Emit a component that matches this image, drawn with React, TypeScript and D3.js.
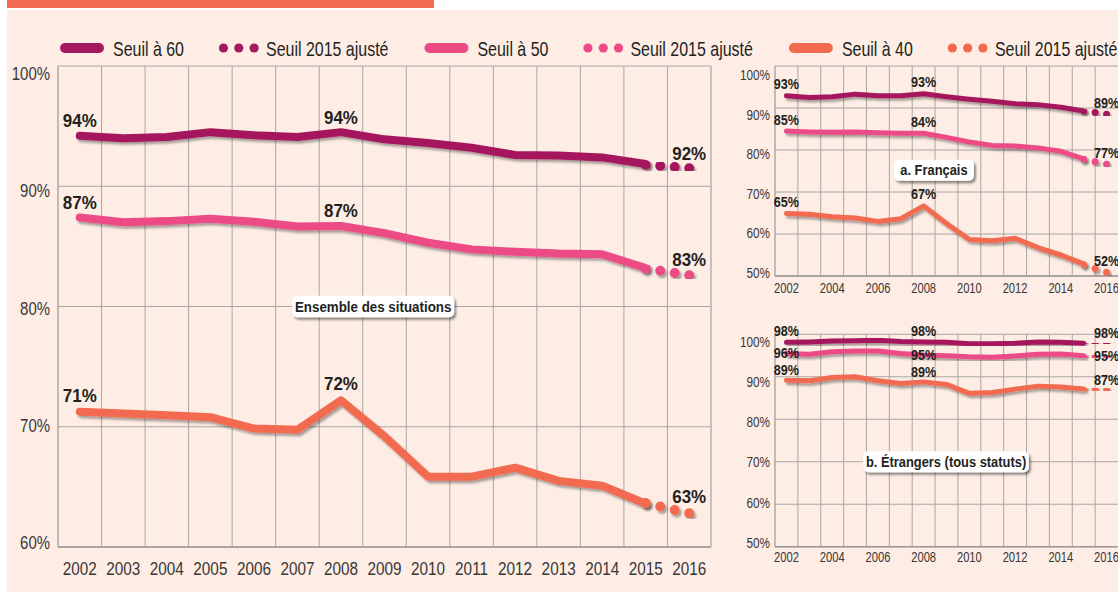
import { useEffect, useRef } from 'react'
import * as d3 from 'd3'

const YEARS = ['2002', '2003', '2004', '2005', '2006', '2007', '2008', '2009', '2010', '2011', '2012', '2013', '2014', '2015', '2016']
const SOLID_YEARS = YEARS.slice(0, 14)
const ADJ_YEARS = ['2015', '2016']
const LABEL_YEARS = ['2002', '2008', '2016']
const EVEN_YEARS = ['2002', '2004', '2006', '2008', '2010', '2012', '2014', '2016']

const SERIES_NAMES = ['Seuil à 60', 'Seuil à 50', 'Seuil à 40']
const ADJ_NAME = 'Seuil 2015 ajusté'
const COLORS = ['#a5195e', '#ec4b86', '#f26a50']

// Ensemble des situations
const ENS_60 = [94.2, 94.0, 94.1, 94.5, 94.25, 94.1, 94.5, 93.9, 93.6, 93.2, 92.6, 92.55, 92.4, 91.85]
const ENS_60_ADJ = [91.8, 91.5]
const ENS_50 = [87.4, 87.0, 87.1, 87.3, 87.05, 86.65, 86.7, 86.1, 85.3, 84.75, 84.55, 84.4, 84.35, 83.2]
const ENS_50_ADJ = [83.15, 82.6]
const ENS_40 = [71.25, 71.1, 70.95, 70.8, 69.85, 69.75, 72.2, 69.2, 65.85, 65.85, 66.6, 65.5, 65.1, 63.6]
const ENS_40_ADJ = [63.65, 62.8]
const ENS_LABELS = [[94, 94, 92], [87, 87, 83], [71, 72, 63]]

// a. Français
const FR_60 = [92.9, 92.5, 92.7, 93.3, 92.9, 92.9, 93.4, 92.7, 92.1, 91.6, 91.0, 90.8, 90.2, 89.3]
const FR_60_ADJ = [89.3, 88.5]
const FR_50 = [84.5, 84.3, 84.2, 84.3, 84.1, 84.0, 84.0, 83.0, 81.9, 81.1, 80.95, 80.5, 79.7, 77.9]
const FR_50_ADJ = [77.8, 76.6]
const FR_40 = [64.9, 64.7, 64.1, 63.8, 63.0, 63.65, 66.7, 62.5, 58.7, 58.4, 59.0, 56.75, 55.0, 52.9]
const FR_40_ADJ = [52.7, 50.9]
const FR_LABELS = [[93, 93, 89], [85, 84, 77], [65, 67, 52]]

// b. Étrangers (tous statuts)
const ET_60 = [98.1, 98.2, 98.4, 98.5, 98.6, 98.3, 98.2, 98.1, 97.8, 97.8, 97.9, 98.2, 98.1, 97.9]
const ET_60_ADJ = [97.9, 97.8]
const ET_50 = [95.5, 95.3, 95.9, 96.05, 96.05, 95.5, 95.1, 94.95, 94.7, 94.6, 94.9, 95.3, 95.35, 94.95]
const ET_50_ADJ = [94.95, 94.7]
const ET_40 = [89.2, 89.05, 89.85, 90.0, 89.05, 88.4, 88.8, 88.2, 86.1, 86.3, 87.1, 87.8, 87.6, 87.1]
const ET_40_ADJ = [87.1, 86.9]
const ET_LABELS = [[98, 98, 98], [96, 95, 95], [89, 89, 87]]

const MAIN_TICKS = [60, 70, 80, 90, 100]
const SMALL_TICKS = [50, 60, 70, 80, 90, 100]

const FONT = '"Liberation Sans", Arial, sans-serif'
const INK = '#231f20'
const GRID = '#aaa6a4'

// the source uses a condensed face: squeeze Liberation Sans horizontally
function squeeze(sel: d3.Selection<any, any, any, any>, f: number) {
  sel.each(function () {
    const node = this as SVGTextElement
    const len = node.getComputedTextLength()
    d3.select(node).attr('textLength', len * f).attr('lengthAdjust', 'spacingAndGlyphs')
  })
}

type Panel = {
  left: number; right: number; top: number; bottom: number
  domain: [number, number]; ticks: number[]; xTicks: string[]
  solid: number[][]; adj: number[][]; labels: number[][]
  lineW: number; dotW: number; dots: number
  labelDy: number[]; labelSize: number; labelF: number
  tickSize: number; yTickF: number; xTickF: number
  xPad: number; yPad: number; tickShift: [number, number]
  box: { text: string; year: string; shift: number; value: number; size: number }
  strongFrame: boolean
}

function drawPanel(root: d3.Selection<SVGGElement, unknown, null, undefined>, p: Panel) {
  const x = d3.scaleBand<string>().domain(YEARS).range([p.left, p.right])
  const y = d3.scaleLinear().domain(p.domain).range([p.bottom, p.top])
  const cx = (yr: string) => (x(yr) ?? 0) + x.bandwidth() / 2
  const g = root.append('g')

  // grid
  g.append('g').selectAll('line').data(p.ticks).join('line')
    .attr('x1', p.left).attr('x2', p.right)
    .attr('y1', d => y(d)).attr('y2', d => y(d))
    .attr('stroke', GRID).attr('stroke-width', 1)
  g.append('g').selectAll('line').data(YEARS.slice(1)).join('line')
    .attr('x1', d => x(d)!).attr('x2', d => x(d)!)
    .attr('y1', p.top).attr('y2', p.bottom)
    .attr('stroke', GRID).attr('stroke-width', 1)
  g.append('line').attr('x1', p.left).attr('x2', p.left).attr('y1', p.top).attr('y2', p.bottom)
    .attr('stroke', '#9c9896').attr('stroke-width', 1.2)
  g.append('line').attr('x1', p.left).attr('x2', p.right).attr('y1', p.bottom).attr('y2', p.bottom)
    .attr('stroke', '#9c9896').attr('stroke-width', 1.5)
  if (p.strongFrame) {
    g.append('line').attr('x1', p.right).attr('x2', p.right).attr('y1', p.top).attr('y2', p.bottom)
      .attr('stroke', '#c4c0be').attr('stroke-width', 2)
  }

  // axes
  const ax = g.append('g').attr('transform', `translate(0,${p.bottom})`)
    .call(d3.axisBottom(x).tickValues(p.xTicks).tickSize(0).tickPadding(p.xPad))
  ax.select('.domain').remove()
  ax.selectAll('text').attr('font-family', FONT).attr('font-size', p.tickSize).attr('fill', '#3a3736')
  squeeze(ax.selectAll('text'), p.xTickF)

  const shift = d3.scaleLinear().domain(p.domain).range(p.tickShift)
  const ay = g.append('g').attr('transform', `translate(${p.left},0)`)
    .call(d3.axisLeft(y).tickValues(p.ticks).tickSize(0).tickPadding(p.yPad).tickFormat(d => `${d}%`))
  ay.select('.domain').remove()
  ay.selectAll<SVGTextElement, number>('text')
    .attr('y', d => shift(d))
    .attr('font-family', FONT).attr('font-size', p.tickSize).attr('fill', '#3a3736')
  squeeze(ay.selectAll('text'), p.yTickF)

  // caption box
  const bx = (x(p.box.year) ?? 0) + x.bandwidth() * p.box.shift
  const by = y(p.box.value)
  const bg = g.append('g')
  const rect = bg.append('rect').attr('fill', '#fff').attr('rx', 5).attr('filter', 'url(#boxShadow)')
  const bt = bg.append('text').attr('x', bx).attr('y', by).attr('dy', '0.36em')
    .attr('text-anchor', 'middle').attr('font-family', FONT).attr('font-weight', 700)
    .attr('font-size', p.box.size).attr('fill', INK).text(p.box.text)
  squeeze(bt, 0.92)
  const w = (bt.node() as SVGTextElement).getComputedTextLength() * 0.92
  const h = p.box.size + 7
  rect.attr('x', bx - w / 2 - 9).attr('y', by - h / 2).attr('width', w + 18).attr('height', h)

  // lines
  const line = d3.line<[string, number]>().x(d => cx(d[0])).y(d => y(d[1]))
  p.solid.forEach((vals, i) => {
    g.append('path')
      .attr('d', line(SOLID_YEARS.map((yr, k) => [yr, vals[k]] as [string, number])))
      .attr('fill', 'none').attr('stroke', COLORS[i]).attr('stroke-width', p.lineW)
      .attr('stroke-linecap', 'round').attr('stroke-linejoin', 'round')
      .attr('filter', 'url(#lineShadow)')
    const dp = g.append('path')
      .attr('d', line(ADJ_YEARS.map((yr, k) => [yr, p.adj[i][k]] as [string, number])))
      .attr('fill', 'none').attr('stroke', COLORS[i]).attr('stroke-width', p.dotW)
      .attr('stroke-linecap', 'round')
      .attr('filter', 'url(#lineShadow)')
    const len = (dp.node() as SVGPathElement).getTotalLength()
    dp.attr('stroke-dasharray', `0 ${len / p.dots - 0.01}`)
  })

  // value labels
  p.labels.forEach((labs, i) => {
    const vals = [p.solid[i][0], p.solid[i][6], p.adj[i][1]]
    const t = g.append('g').selectAll('text').data(LABEL_YEARS).join('text')
      .attr('x', d => cx(d))
      .attr('y', (_, k) => y(vals[k]) + p.labelDy[i])
      .attr('text-anchor', 'middle').attr('font-family', FONT).attr('font-weight', 700)
      .attr('font-size', p.labelSize).attr('fill', INK)
      .text((_, k) => `${labs[k]}%`)
    squeeze(t, p.labelF)
  })
}

export default function App() {
  const ref = useRef<SVGSVGElement>(null)

  useEffect(() => {
    document.body.style.margin = '0'
    const svg = d3.select(ref.current)
    svg.selectAll('*').remove()

    const defs = svg.append('defs')
    defs.append('filter').attr('id', 'lineShadow').attr('x', '-10%').attr('y', '-50%').attr('width', '130%').attr('height', '200%')
      .append('feDropShadow').attr('dx', 2).attr('dy', 2.5).attr('stdDeviation', 1.3)
      .attr('flood-color', '#000').attr('flood-opacity', 0.35)
    defs.append('filter').attr('id', 'boxShadow').attr('x', '-10%').attr('y', '-30%').attr('width', '130%').attr('height', '180%')
      .append('feDropShadow').attr('dx', 2).attr('dy', 2.5).attr('stdDeviation', 1.2)
      .attr('flood-color', '#000').attr('flood-opacity', 0.45)

    svg.append('rect').attr('width', 1118).attr('height', 592).attr('fill', '#fff')
    svg.append('rect').attr('x', 7).attr('y', 10).attr('width', 1111).attr('height', 582).attr('fill', '#fdede5')
    svg.append('rect').attr('x', 7).attr('y', 0).attr('width', 427).attr('height', 8).attr('fill', '#f26a50')

    // legend
    const legend = svg.append('g').attr('transform', 'translate(0,48)')
    let cur = 60
    SERIES_NAMES.forEach((name, i) => {
      legend.append('line').attr('x1', cur + 5).attr('x2', cur + 39).attr('y1', 0).attr('y2', 0)
        .attr('stroke', COLORS[i]).attr('stroke-width', 10).attr('stroke-linecap', 'round')
      const t1 = legend.append('text').attr('x', cur + 53).attr('y', 7.5)
        .attr('font-family', FONT).attr('font-size', 21).attr('fill', INK).text(name)
      const l1 = (t1.node() as SVGTextElement).getComputedTextLength() * 0.76
      squeeze(t1, 0.76)
      cur += 53 + l1 + 35
      legend.append('g').selectAll('circle').data([0, 1, 2]).join('circle')
        .attr('cx', k => cur + 4.5 + k * 15.3).attr('cy', 0).attr('r', 4.6).attr('fill', COLORS[i])
      const t2 = legend.append('text').attr('x', cur + 47).attr('y', 7.5)
        .attr('font-family', FONT).attr('font-size', 21).attr('fill', INK).text(ADJ_NAME)
      const l2 = (t2.node() as SVGTextElement).getComputedTextLength() * 0.76
      squeeze(t2, 0.76)
      cur += 47 + l2 + 36
    })

    const root = svg.append('g')
    drawPanel(root, {
      left: 58, right: 711, top: 66, bottom: 547, domain: [60, 100], ticks: MAIN_TICKS, xTicks: YEARS,
      solid: [ENS_60, ENS_50, ENS_40], adj: [ENS_60_ADJ, ENS_50_ADJ, ENS_40_ADJ], labels: ENS_LABELS,
      lineW: 8, dotW: 10, dots: 3, labelDy: [-8.5, -9, -10], labelSize: 18, labelF: 0.94,
      tickSize: 18, yTickF: 0.83, xTickF: 0.85,
      xPad: 15, yPad: 8, tickShift: [-4.5, 8],
      box: { text: 'Ensemble des situations', year: '2008', shift: 1.24, value: 80, size: 14.5 },
      strongFrame: true,
    })
    drawPanel(root, {
      left: 775, right: 1118, top: 66, bottom: 276, domain: [50, 100], ticks: SMALL_TICKS, xTicks: EVEN_YEARS,
      solid: [FR_60, FR_50, FR_40], adj: [FR_60_ADJ, FR_50_ADJ, FR_40_ADJ], labels: FR_LABELS,
      lineW: 5, dotW: 7, dots: 2, labelDy: [-6.5, -6.5, -6.5], labelSize: 14, labelF: 0.9,
      tickSize: 14, yTickF: 0.84, xTickF: 0.8,
      xPad: 7, yPad: 5, tickShift: [-3, 9],
      box: { text: 'a. Français', year: '2008', shift: 0.95, value: 75.2, size: 14 },
      strongFrame: false,
    })
    drawPanel(root, {
      left: 775, right: 1118, top: 334.3, bottom: 546.7, domain: [50, 100], ticks: SMALL_TICKS, xTicks: EVEN_YEARS,
      solid: [ET_60, ET_50, ET_40], adj: [ET_60_ADJ, ET_50_ADJ, ET_40_ADJ], labels: ET_LABELS,
      lineW: 5, dotW: 7, dots: 2, labelDy: [-6, 4.5, -5], labelSize: 14, labelF: 0.9,
      tickSize: 14, yTickF: 0.84, xTickF: 0.8,
      xPad: 5, yPad: 5, tickShift: [-4, 7.5],
      box: { text: 'b. Étrangers (tous statuts)', year: '2008', shift: 1.48, value: 70, size: 14 },
      strongFrame: false,
    })
  }, [])

  return <svg ref={ref} width={1118} height={592} style={{ display: 'block' }} />
}
